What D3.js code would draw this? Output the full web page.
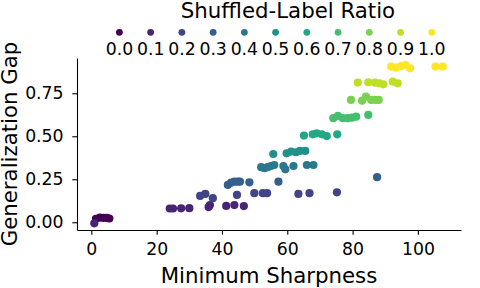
<!DOCTYPE html>
<html>
<head>
<meta charset="utf-8">
<script src="https://cdn.jsdelivr.net/npm/d3@7"></script>
<style>
    body { margin: 0; background: #fff; }
    text { font-family: "DejaVu Sans", sans-serif; fill: #000; }
</style>
</head>
<body>
<div id="chart"></div>
<script>
// shuffled-label ratio of each group (also the legend entries)
const ratios = [0.0, 0.1, 0.2, 0.3, 0.4, 0.5, 0.6, 0.7, 0.8, 0.9, 1.0];
const legendLabels = ["0.0", "0.1", "0.2", "0.3", "0.4", "0.5", "0.6", "0.7", "0.8", "0.9", "1.0"];

// minimum sharpness per run, one list per ratio
const sharpness = [
    [1.4, 2.6, 3.7, 4.7, 5.5],
    [0.9, 24.0, 25.0, 27.5, 30.0, 35.9, 36.3, 41.3, 43.8, 46.7],
    [33.3, 34.9, 37.2, 44.6, 49.9, 52.5, 53.8, 63.4, 66.8, 75.2],
    [41.8, 42.8, 43.8, 44.8, 45.5, 48.4, 57.3, 87.5],
    [52.0, 53.0, 54.0, 55.0, 56.0, 58.8, 59.4, 61.9, 66.0, 68.0],
    [55.7, 59.8, 61.2, 62.7, 63.9, 65.5],
    [65.1, 67.8, 69.0, 70.6, 72.1, 75.3],
    [74.1, 75.5, 77.0, 78.5, 79.8, 81.1, 84.8],
    [79.5, 82.9, 84.1, 85.7, 87.0, 88.0],
    [81.6, 84.8, 86.9, 88.2, 89.4, 92.3, 93.8],
    [91.8, 93.3, 94.9, 96.2, 97.6, 105.4, 107.6]
];

// generalization gap per run, same order as above
const gap = [
    [0.020, 0.027, 0.025, 0.026, 0.022],
    [-0.006, 0.080, 0.080, 0.081, 0.082, 0.088, 0.100, 0.095, 0.100, 0.094],
    [0.153, 0.165, 0.140, 0.159, 0.169, 0.169, 0.169, 0.165, 0.169, 0.174],
    [0.217, 0.230, 0.236, 0.236, 0.236, 0.232, 0.236, 0.262],
    [0.320, 0.314, 0.320, 0.327, 0.333, 0.327, 0.308, 0.327, 0.333, 0.333],
    [0.397, 0.401, 0.411, 0.407, 0.415, 0.415],
    [0.504, 0.511, 0.517, 0.511, 0.501, 0.511],
    [0.605, 0.618, 0.605, 0.605, 0.608, 0.614, 0.624],
    [0.711, 0.707, 0.730, 0.711, 0.711, 0.711],
    [0.812, 0.814, 0.812, 0.808, 0.802, 0.818, 0.808],
    [0.905, 0.899, 0.908, 0.914, 0.895, 0.905, 0.905]
];

const xTicks = [0, 20, 40, 60, 80, 100];
const yTicks = [0, 0.25, 0.5, 0.75];

const W = 480, H = 288;
const margin = { top: 58, right: 19, bottom: 58, left: 77 };
const width = W - margin.left - margin.right;
const height = H - margin.top - margin.bottom;

// flatten into points
const points = [];
ratios.forEach((r, i) => {
    sharpness[i].forEach((s, j) => points.push({ ratio: r, x: s, y: gap[i][j] }));
});

const svg = d3.select("#chart")
    .append("svg")
    .attr("width", W)
    .attr("height", H);

const g = svg.append("g")
    .attr("transform", "translate(" + margin.left + "," + margin.top + ")");

const xScale = d3.scaleLinear()
    .domain([-4.4, 113.2])
    .range([0, width]);

const yScale = d3.scaleLinear()
    .domain([-0.045, 0.955])
    .range([height, 0]);

const color = r => d3.interpolateViridis(r);

// points
g.selectAll(".dot")
    .data(points)
    .enter().append("circle")
    .attr("class", "dot")
    .attr("cx", d => xScale(d.x))
    .attr("cy", d => yScale(d.y))
    .attr("r", 4.1)
    .attr("fill", d => color(d.ratio));

// axes (left + bottom spines only)
const xAxis = g.append("g")
    .attr("transform", "translate(0," + height + ")")
    .call(d3.axisBottom(xScale)
        .tickValues(xTicks)
        .tickFormat(d3.format("d"))
        .tickSize(4.7)
        .tickSizeOuter(0)
        .tickPadding(8));

const yAxis = g.append("g")
    .call(d3.axisLeft(yScale)
        .tickValues(yTicks)
        .tickFormat(d3.format(".2f"))
        .tickSize(4.7)
        .tickSizeOuter(0)
        .tickPadding(8.7));

[xAxis, yAxis].forEach(ax => {
    ax.select(".domain").attr("stroke", "#000").attr("stroke-width", 1.1);
    ax.selectAll(".tick line").attr("stroke", "#000").attr("stroke-width", 1.1);
    ax.selectAll(".tick text")
        .style("font-family", "DejaVu Sans")
        .style("font-size", "17.3px")
        .attr("fill", "#000");
});

// axis labels
svg.append("text")
    .attr("x", margin.left + width / 2)
    .attr("y", 283)
    .style("text-anchor", "middle")
    .style("font-size", "21.3px")
    .text("Minimum Sharpness");

svg.append("text")
    .attr("transform", "rotate(-90)")
    .attr("x", -(margin.top + height / 2))
    .attr("y", 17)
    .style("text-anchor", "middle")
    .style("font-size", "21.3px")
    .text("Generalization Gap");

// legend
svg.append("text")
    .attr("x", 288)
    .attr("y", 18)
    .style("text-anchor", "middle")
    .style("font-size", "21.3px")
    .text("Shuffled-Label Ratio");

const legendStep = 31.24;
const legend = svg.selectAll(".legend-item")
    .data(ratios)
    .enter().append("g")
    .attr("class", "legend-item")
    .attr("transform", (d, i) => "translate(" + (119.4 + i * legendStep) + ",0)");

legend.append("circle")
    .attr("cy", 32.3)
    .attr("r", 3.4)
    .attr("fill", d => color(d));

legend.append("text")
    .attr("y", 55)
    .style("text-anchor", "middle")
    .style("font-size", "17.3px")
    .text((d, i) => legendLabels[i]);
</script>
</body>
</html>
